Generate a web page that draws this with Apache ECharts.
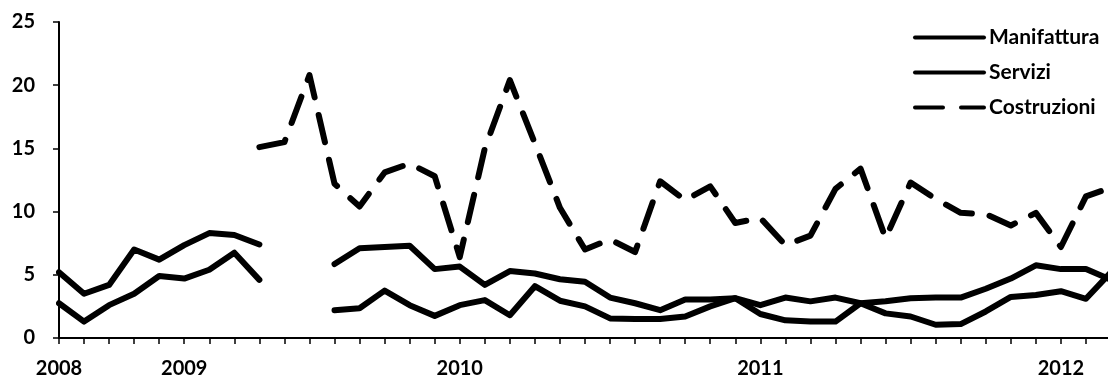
<!DOCTYPE html>
<html>
<head>
<meta charset="utf-8">
<script src="https://cdn.jsdelivr.net/npm/echarts@6/dist/echarts.min.js"></script>
<style>
html,body{margin:0;padding:0;background:#fff;}
#chart{width:1108px;height:376px;}
</style>
</head>
<body>
<div id="chart"></div>
<script>
// Tick labels (one category per period; only some carry a year label)
const tickLabels = [
  '2008','','','','','2009','','','','','','','','','','',
  '2010','','','','','','','','','','','',
  '2011','','','','','','','','','','','',
  '2012','',''
];
const seriesNames = ['Manifattura', 'Servizi', 'Costruzioni'];

const manifattura = [5.2,3.5,4.2,7.0,6.2,7.35,8.3,8.15,7.4,null,null,5.85,7.1,7.2,7.3,5.45,5.65,4.2,5.3,5.1,4.65,4.45,3.2,2.75,2.2,3.05,3.05,3.15,2.6,3.2,2.9,3.2,2.75,1.95,1.7,1.05,1.1,2.1,3.25,3.4,3.7,3.1,5.2];
const servizi = [2.75,1.3,2.6,3.5,4.9,4.7,5.4,6.75,4.6,null,null,2.2,2.35,3.75,2.6,1.75,2.6,3.0,1.8,4.1,2.95,2.5,1.55,1.5,1.5,1.7,2.5,3.15,1.9,1.4,1.3,1.3,2.75,2.9,3.15,3.2,3.2,3.9,4.7,5.75,5.45,5.45,4.6];
const costruzioni = [null,null,null,null,null,null,null,null,15.1,15.5,20.8,12.2,10.4,13.1,13.8,12.8,6.4,15.0,20.4,15.4,10.3,7.0,7.8,6.8,12.4,10.9,12.0,9.1,9.5,7.35,8.1,11.8,13.4,7.9,12.3,11.0,9.9,9.8,8.9,9.9,7.2,11.2,11.9];

const yMin = 0, yMax = 25, yStep = 5;
const FONT = 'Lato';

const chart = echarts.init(document.getElementById('chart'), null, {renderer: 'canvas'});
const solid = {color: '#000', width: 6, cap: 'round', join: 'round'};
chart.setOption({
  animation: false,
  backgroundColor: '#fff',
  grid: {left: 59, right: -3, top: 22, bottom: 38, containLabel: false, outerBoundsMode: 'none'},
  legend: {
    orient: 'vertical',
    left: 913,
    top: 27,
    padding: 0,
    itemWidth: 69,
    itemHeight: 16,
    itemGap: 14,
    data: seriesNames,
    lineStyle: {width: 4},
    itemStyle: {color: 'rgba(0,0,0,0)', borderWidth: 0, opacity: 0},
    textStyle: {fontFamily: FONT, fontWeight: 'bold', fontSize: 21, color: '#000'}
  },
  xAxis: {
    type: 'category',
    data: tickLabels,
    boundaryGap: false,
    axisLine: {lineStyle: {color: '#000', width: 2}},
    axisTick: {show: true, interval: 0, length: 6, lineStyle: {color: '#000', width: 1.5}},
    axisLabel: {interval: 0, margin: 21, fontFamily: FONT, fontWeight: 'bold', fontSize: 20, color: '#000'},
    splitLine: {show: false}
  },
  yAxis: {
    type: 'value',
    min: yMin, max: yMax, interval: yStep,
    axisLine: {show: true, lineStyle: {color: '#000', width: 2}},
    axisTick: {show: true, length: 6, lineStyle: {color: '#000', width: 1.5}},
    axisLabel: {margin: 24, fontFamily: FONT, fontWeight: 'bold', fontSize: 20, color: '#000'},
    splitLine: {show: false}
  },
  series: [
    {name: seriesNames[0], type: 'line', data: manifattura, symbol: 'none', connectNulls: false,
     lineStyle: solid, itemStyle: {color: '#000'}},
    {name: seriesNames[1], type: 'line', data: servizi, symbol: 'none', connectNulls: false,
     lineStyle: solid, itemStyle: {color: '#000'}},
    {name: seriesNames[2], type: 'line', data: costruzioni, symbol: 'none', connectNulls: false,
     lineStyle: {color: '#000', width: 6, type: [28, 18], cap: 'round', join: 'round'}, itemStyle: {color: '#000'}}
  ]
});
</script>
</body>
</html>
